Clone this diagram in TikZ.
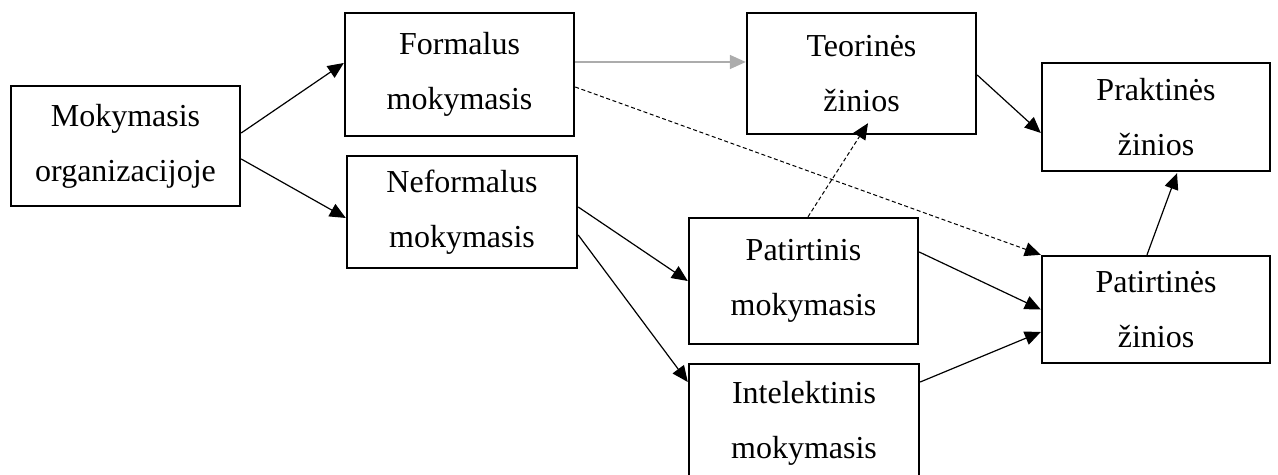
\documentclass[tikz,border=0pt]{standalone}
\usepackage{fontspec}
\setmainfont{Liberation Serif}
\usepackage{tikz}
\usetikzlibrary{arrows.meta}
\usetikzlibrary{calc}
\usetikzlibrary{positioning}
\tikzset{
	>={Triangle[length=8pt, width=7pt]},
	box/.style={draw=black, line width=1.2pt, fill=white, inner sep=0pt, align=center,
		font=\fontsize{16}{27.5}\selectfont},
	link/.style={black, line width=0.6pt, ->},
	greylink/.style={draw=linkGrey, line width=0.8pt, ->, >={Triangle[length=8pt, width=7pt, fill=linkGrey]}},
	dashlink/.style={black, line width=0.5pt, dash pattern=on 2pt off 1.3pt, ->}
}
\begin{document}
\begin{tikzpicture}[x=0.5pt, y=-0.5pt, line cap=butt, line join=miter]
		
		% ---- Colors ----
		\definecolor{linkGrey}{RGB}{172,172,172}
		
		% ---- Frame ----
		\useasboundingbox (0,0) rectangle (1278,475);
		
		% ---- Boxes ----
		\node[box, minimum width=114.5pt, minimum height=60pt] (mok) at (125.5,146) {Mokymasis\\organizacijoje};
		\node[box, minimum width=114.5pt, minimum height=61.5pt] (formal) at (459.5,74.5) {Formalus\\mokymasis};
		\node[box, minimum width=115pt, minimum height=56pt] (neformal) at (462,212) {Neformalus\\mokymasis};
		\node[box, minimum width=114.5pt, minimum height=60.5pt] (teor) at (861.5,73.5) {Teorinės\\žinios};
		\node[box, minimum width=114pt, minimum height=54pt] (prakt) at (1156,117) {Praktinės\\žinios};
		\node[box, minimum width=114.5pt, minimum height=63pt] (patmok) at (803.5,281) {Patirtinis\\mokymasis};
		\node[box, minimum width=114pt, minimum height=53.5pt] (patzin) at (1156,309.5) {Patirtinės\\žinios};
		\node[box, minimum width=115pt, minimum height=59.5pt] (intel) at (804,423.5) {Intelektinis\\mokymasis};
		
		% ---- Learning kinds ----
		\draw[link] ($(mok.east)+(0,-13)$) -- ($(formal.west)+(0,-11.5)$);
		\draw[link] ($(mok.east)+(0,13)$) -- ($(neformal.west)+(0,6)$);
		\draw[link] ($(neformal.east)+(0,-5)$) -- (patmok.west);
		\draw[link] ($(neformal.east)+(0,23)$) -- ($(intel.west)+(0,-41.5)$);
		
		% ---- Towards knowledge ----
		\draw[greylink] ($(formal.east)+(0,-12.5)$) -- ($(teor.west)+(0,-11.5)$);
		\draw[dashlink] ($(formal.east)+(0,12.5)$) -- (patzin.north west);
		\draw[dashlink] ($(patmok.north)+(4.5,0)$) -- ($(teor.south)+(6.5,-12)$);
		\draw[link] ($(patmok.east)+(0,-29)$) -- (patzin.west);
		\draw[link] ($(intel.east)+(0,-41.5)$) -- ($(patzin.west)+(0,22.5)$);
		\draw[link] ($(teor.east)+(0,1.5)$) -- ($(prakt.west)+(0,16)$);
		\draw[link] ($(patzin.north)+(-9,0)$) -- ($(prakt.south)+(21,1)$);
		
	\end{tikzpicture}
\end{document}
